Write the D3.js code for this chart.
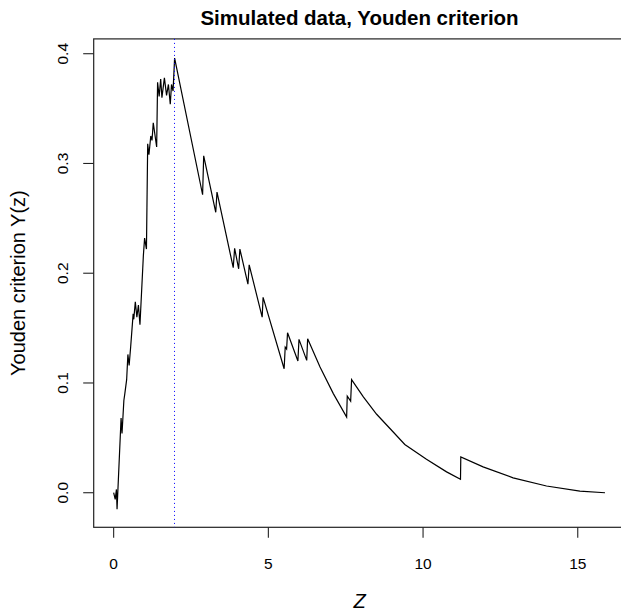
<!DOCTYPE html>
<head>
  <meta charset="utf-8">
  <script src="https://d3js.org/d3.v7.min.js"></script>
  <style>
    body { margin: 0; background: #fff; }
    text { font-family: "Liberation Sans", Arial, sans-serif; fill: #000; }
  </style>
</head>
<body>
  <svg id="chart"></svg>
  <script>
    // values
    var zVals = [0.00, 0.05, 0.09, 0.11, 0.24, 0.27, 0.33, 0.36, 0.42, 0.46, 0.50, 0.55,
      0.63, 0.65, 0.70, 0.75, 0.80, 0.85, 0.96, 1.00, 1.06, 1.10, 1.14, 1.20, 1.24, 1.28,
      1.39, 1.42, 1.47, 1.52, 1.56, 1.64, 1.71, 1.77, 1.83, 1.87, 1.92, 1.97,
      2.875, 2.91, 3.30, 3.34, 3.865, 3.91, 4.04, 4.08, 4.34, 4.38, 4.80, 4.83,
      5.51, 5.545, 5.59, 5.62, 5.955, 5.99, 6.24, 6.27, 6.67, 7.10, 7.53, 7.55, 7.66, 7.69,
      8.07, 8.50, 8.93, 9.41, 10.11, 10.76, 11.21, 11.22, 11.94, 12.91, 13.99, 15.07, 15.88];
    var youden = [0.000, -0.006, 0.003, -0.015, 0.068, 0.054, 0.084, 0.090, 0.103, 0.126, 0.116, 0.133,
      0.163, 0.158, 0.174, 0.160, 0.171, 0.153, 0.216, 0.232, 0.222, 0.318, 0.308, 0.325, 0.321, 0.337,
      0.315, 0.374, 0.361, 0.377, 0.360, 0.378, 0.362, 0.372, 0.354, 0.372, 0.366, 0.396,
      0.2715, 0.307, 0.2555, 0.274, 0.205, 0.2227, 0.204, 0.222, 0.190, 0.2076, 0.160, 0.178,
      0.113, 0.1327, 0.131, 0.1458, 0.120, 0.1397, 0.1206, 0.1403, 0.1145, 0.0903, 0.069, 0.088, 0.0834, 0.103,
      0.0873, 0.0715, 0.0585, 0.044, 0.0304, 0.019, 0.0122, 0.0327, 0.0236, 0.0136, 0.0061, 0.0015, 0.000];
    var optimalZ = 1.96;
    var xTicks = [0, 5, 10, 15];
    var yTicks = [0, 0.1, 0.2, 0.3, 0.4];
    var yTickLabels = ["0.0", "0.1", "0.2", "0.3", "0.4"];

    var width = 621, height = 614;
    // plot region in pixels ("top" is reserved on window, so use p-prefixed names)
    var pLeft = 93.7, pTop = 38.9, pRight = 625.4, pBottom = 527.3;

    var svg = d3.select("#chart")
      .attr("width", width)
      .attr("height", height);

    var x = d3.scaleLinear().domain([-0.645, 16.54]).range([pLeft, pRight]);
    var y = d3.scaleLinear().domain([-0.0315, 0.4135]).range([pBottom, pTop]);

    // plot box (right side falls outside the picture)
    svg.append("rect")
      .attr("x", pLeft).attr("y", pTop)
      .attr("width", pRight - pLeft).attr("height", pBottom - pTop)
      .attr("fill", "none").attr("stroke", "#222").attr("stroke-width", 1.2);

    // x axis ticks + labels
    svg.selectAll(".xtick").data(xTicks).enter().append("line")
      .attr("x1", d => x(d)).attr("x2", d => x(d))
      .attr("y1", pBottom).attr("y2", pBottom + 10.5)
      .attr("stroke", "#222").attr("stroke-width", 1.1);
    svg.selectAll(".xlab").data(xTicks).enter().append("text")
      .attr("x", d => x(d)).attr("y", 568.5)
      .attr("text-anchor", "middle")
      .style("font-size", "15.5px")
      .text(d => d);

    // y axis ticks + labels
    svg.selectAll(".ytick").data(yTicks).enter().append("line")
      .attr("x1", pLeft - 10.5).attr("x2", pLeft)
      .attr("y1", d => y(d)).attr("y2", d => y(d))
      .attr("stroke", "#222").attr("stroke-width", 1.1);
    svg.selectAll(".ylab").data(yTicks).enter().append("text")
      .attr("transform", d => "translate(67.5," + y(d) + ") rotate(-90)")
      .attr("text-anchor", "middle")
      .style("font-size", "15.5px")
      .text((d, i) => yTickLabels[i]);

    // titles
    svg.append("text")
      .attr("x", (pLeft + pRight) / 2).attr("y", 25)
      .attr("text-anchor", "middle")
      .style("font-size", "20.5px").style("font-weight", "bold")
      .text("Simulated data, Youden criterion");
    svg.append("text")
      .attr("x", (pLeft + pRight) / 2).attr("y", 608)
      .attr("text-anchor", "middle")
      .style("font-size", "20px").style("font-style", "italic")
      .text("Z");
    svg.append("text")
      .attr("transform", "translate(25," + (pTop + pBottom) / 2 + ") rotate(-90)")
      .attr("text-anchor", "middle")
      .style("font-size", "20px")
      .text("Youden criterion Y(z)");

    // the criterion curve
    var pts = zVals.map((z, i) => [z, youden[i]]);
    var line = d3.line().x(d => x(d[0])).y(d => y(d[1]));
    svg.append("path")
      .attr("d", line(pts))
      .attr("fill", "none").attr("stroke", "#000").attr("stroke-width", 1.2);

    // optimal cut-off marker
    var vx = Math.round(x(optimalZ)) + 0.5;
    svg.append("line")
      .attr("x1", vx).attr("x2", vx)
      .attr("y1", pTop).attr("y2", pBottom)
      .attr("stroke", "#0000ff").attr("stroke-width", 1)
      .attr("stroke-dasharray", "1,3");
  </script>
</body>
